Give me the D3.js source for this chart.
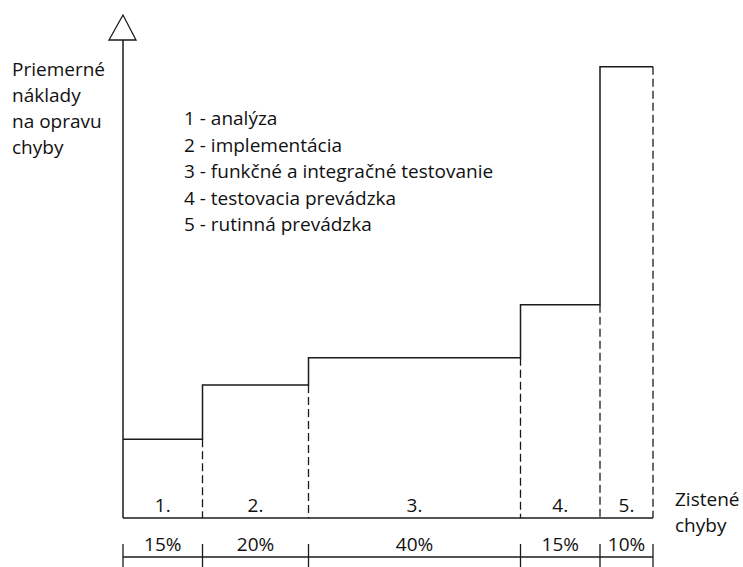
<!DOCTYPE html>
<html>
<head>
<meta charset="utf-8">
<script src="https://cdn.jsdelivr.net/npm/d3@7"></script>
<style>
  html, body { margin: 0; padding: 0; background: #fff; }
  svg text { font-family: "Open Sans", "Noto Sans", sans-serif; fill: #111; }
</style>
</head>
<body>
<svg id="chart" width="743" height="567"></svg>
<script>
// fázy a ich podiel na zistených chybách (%)
const phases = ["1.", "2.", "3.", "4.", "5."];
const shares = [15, 20, 40, 15, 10];
const shareLabels = ["15%", "20%", "40%", "15%", "10%"];
// priemerné náklady na opravu chyby (relatívne jednotky, 0–100)
const costs = [16.5, 27.8, 33.5, 44.6, 94.4];

const legendItems = [
  "1 - analýza",
  "2 - implementácia",
  "3 - funkčné a integračné testovanie",
  "4 - testovacia prevádzka",
  "5 - rutinná prevádzka"
];
const yLabel = ["Priemerné", "náklady", "na opravu", "chyby"];
const xLabel = ["Zistené", "chyby"];

const svg = d3.select("#chart");
const ink = "#1a1a1a";
const fontSize = 19;

const x = d3.scaleLinear().domain([0, 100]).range([123, 653]);
const y = d3.scaleLinear().domain([0, 100]).range([518, 40]);

// hranice úsekov
const bounds = [0];
shares.forEach(s => bounds.push(bounds[bounds.length - 1] + s));
const segs = phases.map((p, i) => ({
  label: p,
  pct: shareLabels[i],
  x0: bounds[i],
  x1: bounds[i + 1],
  cost: costs[i]
}));

// os y so šípkou
svg.append("line")
  .attr("x1", x(0)).attr("x2", x(0))
  .attr("y1", y(0)).attr("y2", y(100))
  .attr("stroke", ink).attr("stroke-width", 1.5);

svg.append("path")
  .attr("d", `M${x(0)},15 L${x(0) - 14},${y(100)} L${x(0) + 13},${y(100)} Z`)
  .attr("fill", "#fff").attr("stroke", ink).attr("stroke-width", 1.3);

// os x
svg.append("line")
  .attr("x1", x(0)).attr("x2", x(100))
  .attr("y1", y(0)).attr("y2", y(0))
  .attr("stroke", ink).attr("stroke-width", 1.5);

// prerušované zvislé čiary
svg.selectAll(".dash")
  .data(segs)
  .join("line")
  .attr("class", "dash")
  .attr("x1", d => x(d.x1)).attr("x2", d => x(d.x1))
  .attr("y1", d => y(d.cost)).attr("y2", y(0))
  .attr("stroke", ink).attr("stroke-width", 1.3)
  .attr("stroke-dasharray", "8,4");

// schodová krivka nákladov
const stepPts = [];
segs.forEach(d => {
  stepPts.push([x(d.x0), y(d.cost)]);
  stepPts.push([x(d.x1), y(d.cost)]);
});
svg.append("path")
  .attr("d", d3.line()(stepPts))
  .attr("fill", "none")
  .attr("stroke", ink).attr("stroke-width", 1.5);

// čísla fáz
svg.selectAll(".phase")
  .data(segs)
  .join("text")
  .attr("class", "phase")
  .attr("x", d => x((d.x0 + d.x1) / 2))
  .attr("y", 512)
  .attr("text-anchor", "middle")
  .attr("font-size", fontSize)
  .text(d => d.label);

// spodná percentuálna os
const pctY = 557;
svg.append("line")
  .attr("x1", x(0)).attr("x2", x(100))
  .attr("y1", pctY).attr("y2", pctY)
  .attr("stroke", ink).attr("stroke-width", 1.5);

svg.selectAll(".ptick")
  .data(bounds)
  .join("line")
  .attr("class", "ptick")
  .attr("x1", d => x(d)).attr("x2", d => x(d))
  .attr("y1", 544).attr("y2", 567)
  .attr("stroke", ink).attr("stroke-width", 1.3);

svg.selectAll(".pct")
  .data(segs)
  .join("text")
  .attr("class", "pct")
  .attr("x", d => x((d.x0 + d.x1) / 2))
  .attr("y", 551)
  .attr("text-anchor", "middle")
  .attr("font-size", fontSize)
  .text(d => d.pct);

// popis osi y
svg.append("text")
  .attr("font-size", fontSize)
  .selectAll("tspan")
  .data(yLabel)
  .join("tspan")
  .attr("x", 12)
  .attr("y", (d, i) => 76 + i * 26)
  .text(d => d);

// popis osi x
svg.append("text")
  .attr("font-size", fontSize)
  .selectAll("tspan")
  .data(xLabel)
  .join("tspan")
  .attr("x", 675)
  .attr("y", (d, i) => 506 + i * 26)
  .text(d => d);

// legenda
svg.append("text")
  .attr("font-size", fontSize)
  .selectAll("tspan")
  .data(legendItems)
  .join("tspan")
  .attr("x", 184)
  .attr("y", (d, i) => 125 + i * 26.5)
  .text(d => d);
</script>
</body>
</html>
